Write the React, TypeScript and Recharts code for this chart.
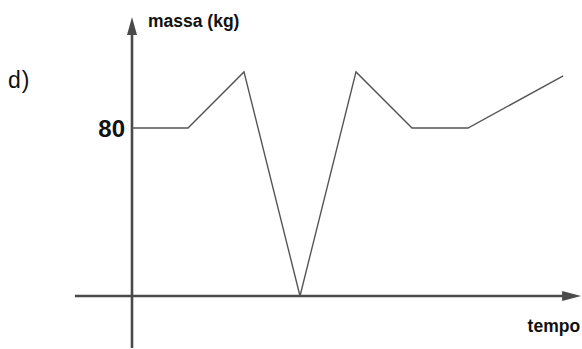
import React from "react";
import { LineChart, Line, XAxis, YAxis, ReferenceLine, ReferenceDot, Customized } from "recharts";

// time (arbitrary units) and mass (kg)
const tempo = [0, 1, 2, 3, 4, 5, 6, 7.7];
const massa = [80, 80, 106.7, 0, 106.7, 80, 80, 104.8];
const yTickValue = 80;
const yTickLabel = "80";
const yAxisLabel = "massa (kg)";
const xAxisLabel = "tempo";
const panelLabel = "d)";

const data = tempo.map((t, i) => ({ t, m: massa[i] }));

const W = 582;
const H = 349;
const AXIS_COLOR = "#4a4a4a";
const LINE_COLOR = "#555555";
const FONT = "'Liberation Sans', Arial, sans-serif";

// axis extents in data units
const X_DOMAIN: [number, number] = [-132 / 56, 450 / 56];
const Y_DOMAIN: [number, number] = [-53 / 2.1, 296 / 2.1];
const Y_AXIS_TOP = 132.9;
const Y_AXIS_BOTTOM = -24.8;
const X_AXIS_LEFT = -1.02;
const X_AXIS_RIGHT = 8.02;

const YAxisShape = (props: any) => {
  const { x1, y1, y2 } = props;
  const top = Math.min(y1, y2);
  const bottom = Math.max(y1, y2);
  const x = x1;
  return (
    <g>
      <line x1={x} y1={top + 16} x2={x} y2={bottom} stroke={AXIS_COLOR} strokeWidth={2.6} />
      <polygon points={`${x},${top} ${x - 5},${top + 18} ${x + 5},${top + 18}`} fill={AXIS_COLOR} />
      <text x={x + 16} y={top + 10} fontFamily={FONT} fontWeight="bold" fontSize={17.5} fill="#111">
        {yAxisLabel}
      </text>
    </g>
  );
};

const XAxisShape = (props: any) => {
  const { x1, y1, x2 } = props;
  const left = Math.min(x1, x2);
  const right = Math.max(x1, x2);
  const y = y1;
  return (
    <g>
      <line x1={left} y1={y} x2={right - 16} y2={y} stroke={AXIS_COLOR} strokeWidth={2.6} />
      <polygon points={`${right},${y} ${right - 19},${y - 5} ${right - 19},${y + 5}`} fill={AXIS_COLOR} />
      <text x={right - 1} y={y + 36} textAnchor="end" fontFamily={FONT} fontWeight="bold" fontSize={17.5} fill="#111">
        {xAxisLabel}
      </text>
    </g>
  );
};

const TickShape = (props: any) => {
  const { cx, cy } = props;
  return (
    <text x={cx - 7} y={cy + 9} textAnchor="end" fontFamily={FONT} fontWeight="bold" fontSize={24} fill="#111">
      {yTickLabel}
    </text>
  );
};

const PanelLabel = () => (
  <text x={8} y={88} fontFamily={FONT} fontSize={23} letterSpacing={1} fill="#111">
    {panelLabel}
  </text>
);

export default function App() {
  return (
    <div style={{ position: "absolute", left: 0, top: 0, width: W, height: H }}>
      <LineChart width={W} height={H} data={data} margin={{ top: 0, right: 0, bottom: 0, left: 0 }}>
        <XAxis type="number" dataKey="t" domain={X_DOMAIN} allowDataOverflow hide />
        <YAxis type="number" domain={Y_DOMAIN} allowDataOverflow hide />
        <ReferenceLine
          segment={[{ x: 0, y: Y_AXIS_TOP }, { x: 0, y: Y_AXIS_BOTTOM }]}
          ifOverflow="visible"
          shape={YAxisShape}
        />
        <ReferenceLine
          segment={[{ x: X_AXIS_LEFT, y: 0 }, { x: X_AXIS_RIGHT, y: 0 }]}
          ifOverflow="visible"
          shape={XAxisShape}
        />
        <ReferenceDot x={0} y={yTickValue} r={0} ifOverflow="visible" shape={TickShape} />
        <Line
          type="linear"
          dataKey="m"
          stroke={LINE_COLOR}
          strokeWidth={1.4}
          dot={false}
          activeDot={false}
          isAnimationActive={false}
        />
        <Customized component={PanelLabel} />
      </LineChart>
    </div>
  );
}
